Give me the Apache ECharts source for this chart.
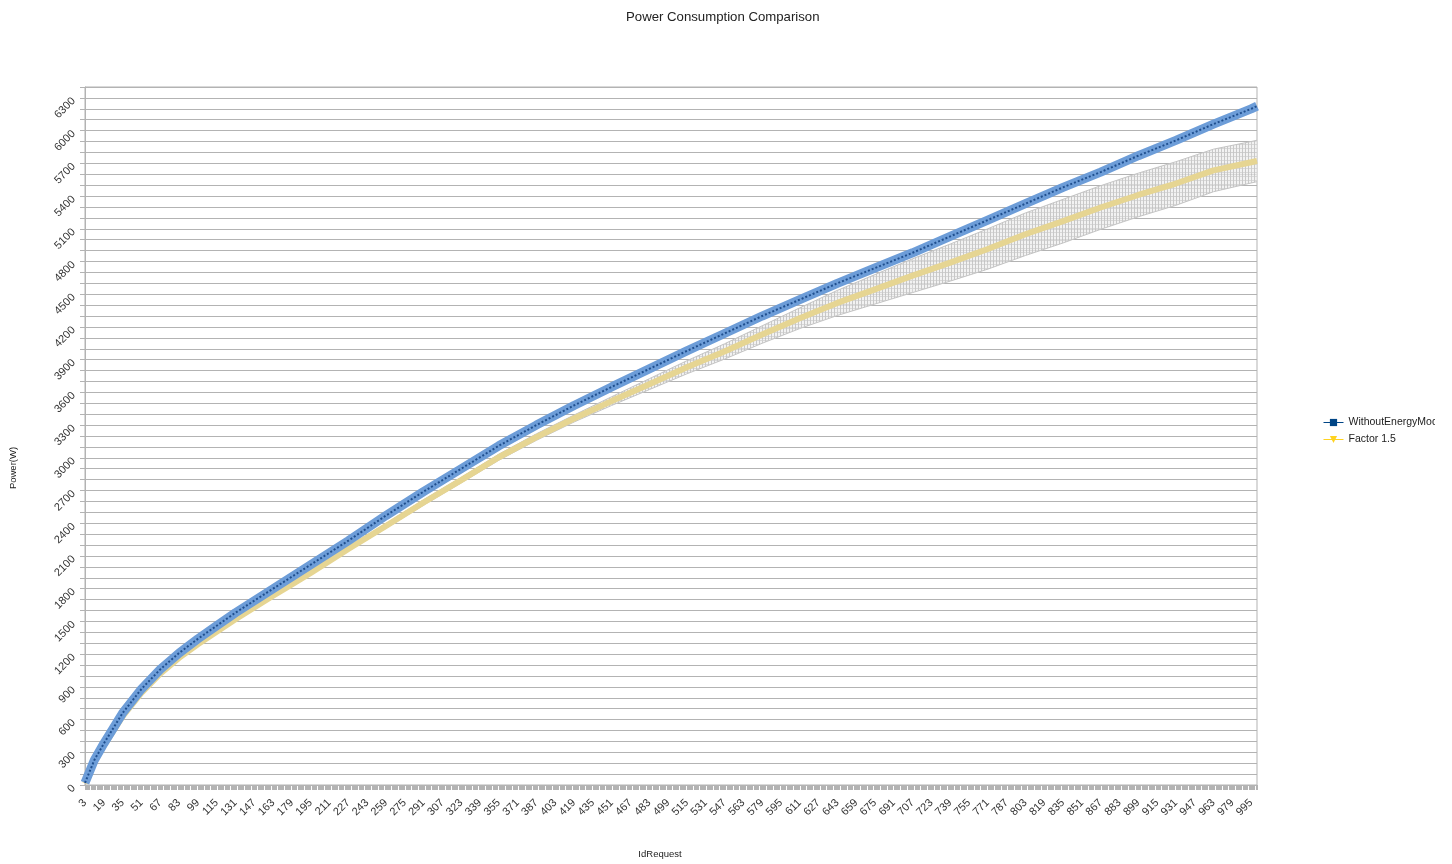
<!DOCTYPE html>
<html>
<head>
<meta charset="utf-8">
<title>Power Consumption Comparison</title>
<script src="https://cdn.jsdelivr.net/npm/echarts@6/dist/echarts.min.js"></script>
<style>
  html, body { margin: 0; padding: 0; background: #ffffff; }
  #chart { width: 1435px; height: 864px; overflow: hidden; }
</style>
</head>
<body>
<div id="chart"></div>
<script>
// Request ids run from 3 to 1000 along the category axis.
const firstId = 3;
const lastId = 1000;

// Ids at which the power curves are sampled.
const sampleIds = [3, 11, 19, 27, 35, 51, 67, 83, 99, 115, 131, 147, 163, 179, 195,
  227, 259, 291, 323, 355, 387, 419, 451, 483, 515, 547, 579, 611, 643, 675,
  707, 739, 771, 803, 835, 867, 899, 931, 963, 995, 1000];

// Power (W) without the energy model.
const withoutEnergyModel = [20, 230, 380, 520, 660, 880, 1060, 1210, 1340, 1460,
  1580, 1690, 1800, 1910, 2020, 2240, 2470, 2690, 2900, 3110,
  3300, 3480, 3650, 3815, 3980, 4140, 4300, 4450, 4600, 4740,
  4880, 5030, 5180, 5330, 5480, 5620, 5770, 5910, 6060, 6200, 6225];

// Power (W) with factor 1.5.
const factor15 = [15, 215, 360, 495, 630, 845, 1020, 1165, 1290, 1405,
  1520, 1628, 1735, 1840, 1945, 2165, 2375, 2590, 2795, 3005,
  3190, 3360, 3520, 3675, 3830, 3975, 4130, 4280, 4420, 4545,
  4670, 4790, 4915, 5050, 5170, 5295, 5410, 5515, 5635, 5710, 5722];

// Error (+/- W) of the factor 1.5 series.
const factor15Error = [10, 10, 12, 12, 14, 15, 15, 15, 15, 15,
  15, 15, 15, 15, 18, 20, 22, 25, 25, 28,
  30, 32, 40, 50, 60, 70, 80, 95, 115, 135,
  155, 170, 185, 195, 200, 200, 200, 200, 195, 190, 190];

// Y axis: gridline every 100 W, labels every 300 W.
const yMax = 6400;
const yGridStep = 100;
const yLabelStep = 300;

const requestIds = [];
for (let id = firstId; id <= lastId; id++) requestIds.push(String(id));

const toPoints = (values) => sampleIds.map((id, i) => [id - firstId, values[i]]);
const bandData = sampleIds.map((id, i) => [id - firstId, factor15[i] - factor15Error[i], factor15[i] + factor15Error[i]]);

// Fine gray mesh used to fill the error-bar band.
function makeMesh() {
  const c = document.createElement('canvas');
  c.width = 3; c.height = 4;
  const ctx = c.getContext('2d');
  ctx.fillStyle = 'rgba(236,236,236,0.7)';
  ctx.fillRect(0, 0, 3, 4);
  ctx.fillStyle = 'rgba(185,185,185,0.75)';
  ctx.fillRect(0, 0, 1, 4);
  ctx.fillStyle = 'rgba(200,200,200,0.6)';
  ctx.fillRect(0, 0, 3, 1);
  return c;
}
const meshPattern = { image: makeMesh(), repeat: 'repeat' };

const font = '"Liberation Sans", Arial, sans-serif';
const axisGray = '#b3b3b3';

const chart = echarts.init(document.getElementById('chart'), null, { renderer: 'canvas' });

chart.setOption({
  animation: false,
  backgroundColor: '#ffffff',
  textStyle: { fontFamily: font },
  title: {
    text: 'Power Consumption Comparison',
    left: 621,
    top: 6,
    textStyle: { fontSize: 13.2, fontWeight: 'normal', color: '#222', fontFamily: font }
  },
  legend: {
    orient: 'vertical',
    left: 1318,
    top: 412,
    itemWidth: 20,
    itemHeight: 9,
    itemGap: 6,
    textStyle: { fontSize: 10.5, color: '#222', fontFamily: font },
    data: [
      { name: 'WithoutEnergyModel', itemStyle: { color: '#004586' }, lineStyle: { color: '#004586', width: 1 } },
      { name: 'Factor 1.5', itemStyle: { color: '#ffd320' }, lineStyle: { color: '#ffd320', width: 1 } }
    ]
  },
  grid: {
    left: 84, top: 87, width: 1173, height: 704,
    show: true, borderColor: axisGray, borderWidth: 1, backgroundColor: 'transparent'
  },
  xAxis: {
    type: 'category',
    data: requestIds,
    boundaryGap: false,
    name: 'IdRequest',
    nameLocation: 'middle',
    nameGap: 64,
    nameTextStyle: { fontSize: 9.5, color: '#222', padding: [0, 22, 0, 0] },
    axisLine: { lineStyle: { color: axisGray } },
    axisTick: { interval: 0, length: 5, lineStyle: { color: axisGray } },
    axisLabel: { interval: 15, rotate: 45, fontSize: 11, color: '#333', margin: 16 },
    splitLine: { show: false }
  },
  yAxis: {
    type: 'value',
    min: 0,
    max: yMax,
    interval: yGridStep,
    name: 'Power(W)',
    nameLocation: 'middle',
    nameRotate: 90,
    nameGap: 67,
    nameTextStyle: { fontSize: 9.5, color: '#222', padding: [0, 64, 0, 0] },
    axisLine: { show: true, lineStyle: { color: axisGray } },
    axisTick: { show: true, length: 5, lineStyle: { color: axisGray } },
    axisLabel: {
      rotate: 45, fontSize: 11, color: '#333', margin: 10, padding: [4, 2, 0, 0],
      formatter: (v) => (v % yLabelStep === 0 ? String(v) : '')
    },
    splitLine: { lineStyle: { color: axisGray, width: 1 } }
  },
  series: [
    {
      // Error-bar band around the factor 1.5 curve
      type: 'custom',
      silent: true,
      z: 2,
      encode: { x: 0, y: [1, 2] },
      data: bandData,
      renderItem: (params, api) => {
        const i = params.dataIndex;
        if (i >= bandData.length - 1) return null;
        const a = bandData[i], b = bandData[i + 1];
        const p1 = api.coord([a[0], a[2]]);
        const p2 = api.coord([b[0], b[2]]);
        const p3 = api.coord([b[0], b[1]]);
        const p4 = api.coord([a[0], a[1]]);
        return {
          type: 'group',
          children: [
            { type: 'polygon', shape: { points: [p1, p2, p3, p4] }, style: { fill: meshPattern } },
            { type: 'line', shape: { x1: p1[0], y1: p1[1], x2: p2[0], y2: p2[1] }, style: { stroke: '#c4c4c4', lineWidth: 1 } },
            { type: 'line', shape: { x1: p4[0], y1: p4[1], x2: p3[0], y2: p3[1] }, style: { stroke: '#c4c4c4', lineWidth: 1 } }
          ]
        };
      }
    },
    {
      name: 'Factor 1.5',
      type: 'line',
      z: 3,
      data: toPoints(factor15),
      symbol: 'triangle',
      symbolRotate: 180,
      symbolSize: 7,
      showSymbol: false,
      itemStyle: { color: '#ffd320' },
      lineStyle: { color: '#e6d592', width: 6 }
    },
    {
      name: 'WithoutEnergyModel',
      type: 'line',
      z: 4,
      data: toPoints(withoutEnergyModel),
      symbol: 'rect',
      symbolSize: 7,
      showSymbol: false,
      itemStyle: { color: '#004586' },
      lineStyle: { color: '#6d9dd8', width: 9 }
    },
    {
      // Dark marker trail along the middle of the blue curve
      type: 'line',
      z: 5,
      silent: true,
      data: toPoints(withoutEnergyModel),
      showSymbol: false,
      lineStyle: { color: '#1f4f8f', width: 2, type: [2, 2] }
    }
  ]
});
</script>
</body>
</html>
